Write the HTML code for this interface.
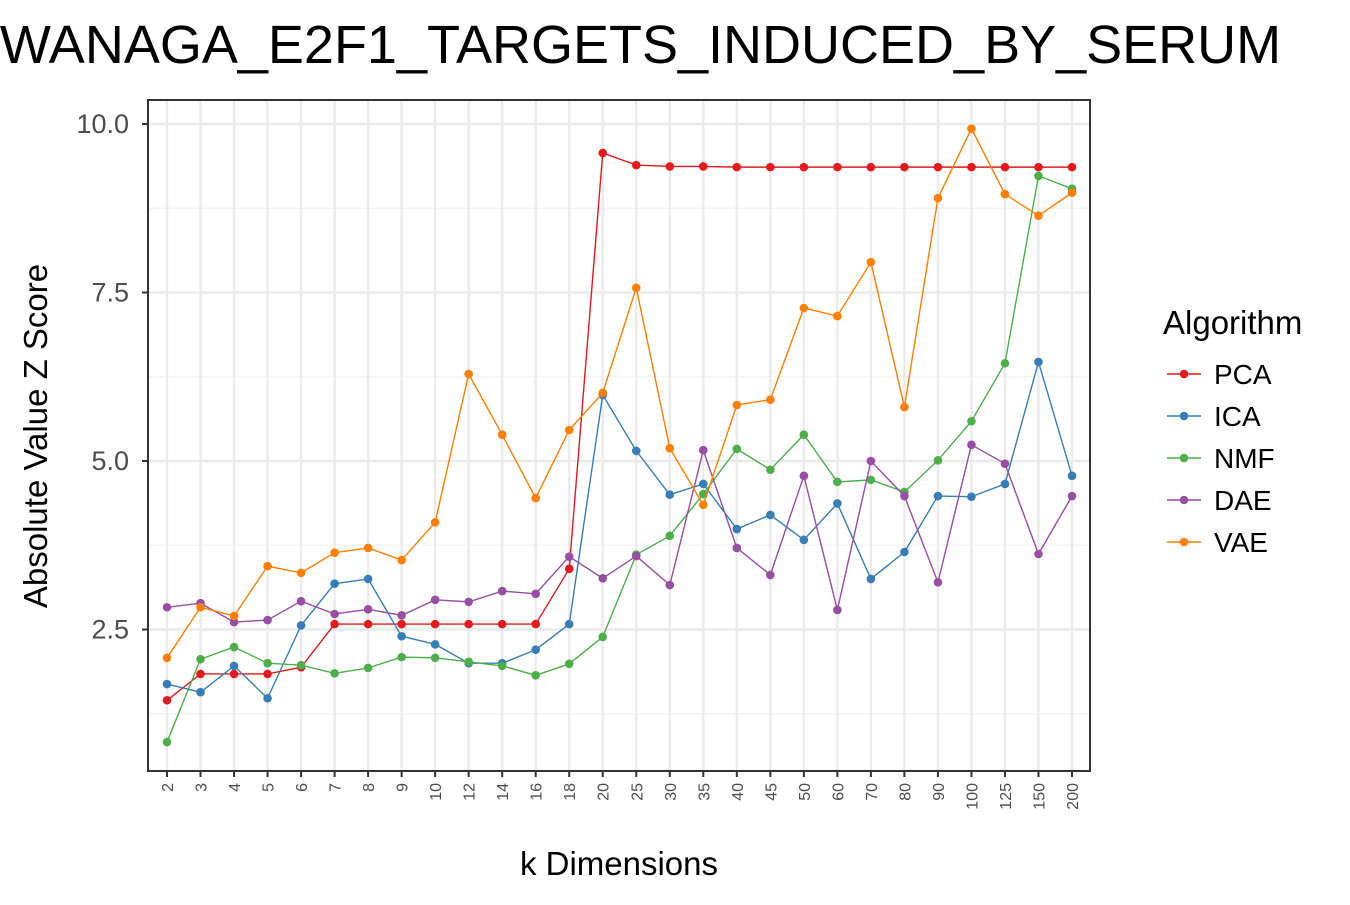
<!DOCTYPE html>
<html><head><meta charset="utf-8"><style>body{margin:0;background:#fff}svg{font-family:"Liberation Sans",Arial,sans-serif}</style></head>
<body>
<svg id="c" width="1350" height="900"></svg>
<script>
const categories=["2","3","4","5","6","7","8","9","10","12","14","16","18","20","25","30","35","40","45","50","60","70","80","90","100","125","150","200"];
const seriesNames=["PCA","ICA","NMF","DAE","VAE"];
const colors=["#E41A1C","#377EB8","#4DAF4A","#984EA3","#FF7F00"];
const pca=[1.45,1.84,1.84,1.84,1.94,2.58,2.58,2.58,2.58,2.58,2.58,2.58,3.40,9.57,9.39,9.37,9.37,9.36,9.36,9.36,9.36,9.36,9.36,9.36,9.36,9.36,9.36,9.36];
const ica=[1.69,1.57,1.96,1.48,2.56,3.18,3.25,2.40,2.28,2.00,2.00,2.20,2.58,5.98,5.15,4.50,4.66,3.99,4.20,3.83,4.37,3.25,3.65,4.48,4.47,4.66,6.47,4.78];
const nmf=[0.83,2.06,2.24,2.00,1.97,1.85,1.93,2.09,2.08,2.02,1.96,1.82,1.99,2.39,3.61,3.89,4.51,5.18,4.87,5.39,4.69,4.72,4.54,5.01,5.59,6.45,9.23,9.04];
const dae=[2.83,2.89,2.61,2.64,2.92,2.73,2.80,2.71,2.94,2.91,3.07,3.03,3.58,3.26,3.59,3.16,5.16,3.71,3.31,4.78,2.79,5.00,4.48,3.20,5.24,4.96,3.62,4.48];
const vae=[2.08,2.83,2.70,3.44,3.34,3.64,3.71,3.53,4.09,6.29,5.39,4.45,5.46,6.01,7.57,5.19,4.35,5.83,5.91,7.27,7.15,7.95,5.80,8.90,9.93,8.96,8.64,8.98];
const yTicks=[2.5,5.0,7.5,10.0];
const yMinor=[1.25,3.75,6.25,8.75];
const series=[pca,ica,nmf,dae,vae];
const L=148,R=1090,T=100,B=771;
const x=i=>167+i*(1072-167)/(categories.length-1);
const y=v=>124+(10-v)*67.4;
const NS="http://www.w3.org/2000/svg";
const svg=document.getElementById('c');
function mk(t,a,p){const e=document.createElementNS(NS,t);for(const k in a)e.setAttribute(k,a[k]);(p||svg).appendChild(e);return e;}
let g=mk('g',{});


yMinor.forEach(v=>mk('line',{x1:L,x2:R,y1:y(v),y2:y(v),stroke:'#f2f2f2','stroke-width':1.2},g));
yTicks.forEach(v=>mk('line',{x1:L,x2:R,y1:y(v),y2:y(v),stroke:'#ebebeb','stroke-width':2.4},g));
categories.forEach((c,i)=>mk('line',{x1:x(i),x2:x(i),y1:T,y2:B,stroke:'#ebebeb','stroke-width':2.4},g));
series.forEach((s,si)=>{
 const sg=mk('g',{});
 
 
 mk('polyline',{points:s.map((v,i)=>x(i)+','+y(v)).join(' '),fill:'none',stroke:colors[si],'stroke-width':1.4},sg);
 s.forEach((v,i)=>{const p=mk('circle',{cx:x(i),cy:y(v),r:4.3,fill:colors[si]},sg);
  
  });
});
const fr=mk('rect',{x:L,y:T,width:R-L,height:B-T,fill:'none',stroke:'#333','stroke-width':2});


yTicks.forEach(v=>{mk('line',{x1:L-6,x2:L,y1:y(v),y2:y(v),stroke:'#333','stroke-width':2});
 const t=mk('text',{x:L-19,y:y(v)+9,'text-anchor':'end','font-size':27,fill:'#4d4d4d'});t.textContent=v.toFixed(1);
 
 });
categories.forEach((c,i)=>{mk('line',{x1:x(i),x2:x(i),y1:B,y2:B+6,stroke:'#333','stroke-width':2});
 const t=mk('text',{x:0,y:0,transform:`translate(${x(i)+6},${B+12}) rotate(-90)`,'text-anchor':'end','font-size':16,fill:'#4d4d4d'});t.textContent=c;
 
 });
let t=mk('text',{x:619,y:875,'text-anchor':'middle','font-size':33,fill:'#000'});t.textContent='k Dimensions';


t=mk('text',{x:0,y:0,transform:'translate(47,436) rotate(-90)','text-anchor':'middle','font-size':33,fill:'#000'});t.textContent='Absolute Value Z Score';


t=mk('text',{x:633,y:63,'text-anchor':'middle','font-size':54,fill:'#000'});t.textContent='IWANAGA_E2F1_TARGETS_INDUCED_BY_SERUM';


t=mk('text',{x:1163,y:334,'font-size':33,fill:'#000'});t.textContent='Algorithm';


seriesNames.forEach((n,i)=>{const lg=mk('g',{});
 
 
 const yy=374+i*42;
 mk('line',{x1:1167,x2:1201,y1:yy,y2:yy,stroke:colors[i],'stroke-width':1.4},lg);
 mk('circle',{cx:1184,cy:yy,r:4.3,fill:colors[i]},lg);
 const tt=mk('text',{x:1214,y:yy+10,'font-size':28,fill:'#000'},lg);tt.textContent=n;});
</script>
</body></html>
